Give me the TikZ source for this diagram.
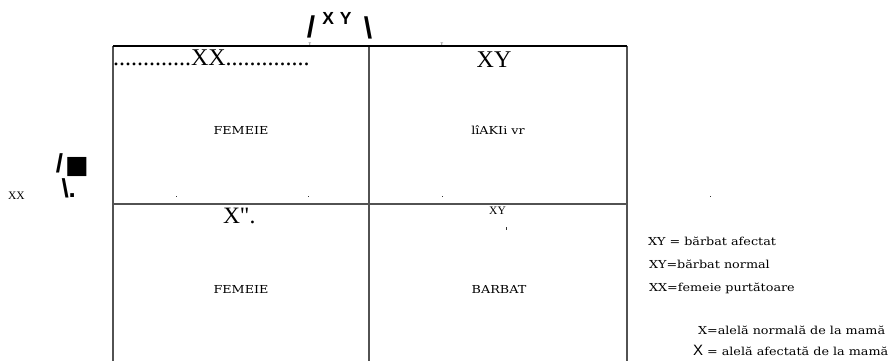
\documentclass[tikz,border=0pt]{standalone}
\usepackage{fontspec}
\setmainfont{DejaVu Serif}
\newfontfamily\wideserif[FakeStretch=1.16]{DejaVu Serif}
\newfontfamily\tnr{Liberation Serif}
\newfontfamily\arial{Liberation Sans}
\newfontfamily\djs{DejaVu Sans}
\begin{document}
\begin{tikzpicture}[x=1pt,y=-1pt,
  txt/.style={inner sep=0pt,outer sep=0pt},
  grid/.style={line width=1.5pt,draw=black!68},
  topline/.style={line width=1.6pt,draw=black},
  big/.style={txt,font=\tnr\fontsize{24}{24}\selectfont},
  cell/.style={txt,font=\wideserif\fontsize{11}{11}\selectfont},
  small/.style={txt,font=\tnr\fontsize{11.5}{11.5}\selectfont},
  legend/.style={txt,anchor=base west,font=\wideserif\fontsize{11}{11}\selectfont},
  tiny/.style={txt,font=\fontsize{4}{4}\selectfont,text=black!70},
  slash/.style={txt,anchor=base,font=\arial\bfseries\fontsize{30}{30}\selectfont},
  speck/.style={fill=black!80}]
\useasboundingbox (0,0) rectangle (893,361);
% grid
\coordinate (tl) at (113,46);
\coordinate (tm) at (369,46);
\coordinate (tr) at (627,46);
\coordinate (ml) at (113,204);
\coordinate (mr) at (627,204);
\coordinate (bl) at (113,361);
\coordinate (bm) at (369,361);
\coordinate (br) at (627,361);
\draw[grid] (tl) -- (bl);
\draw[grid] (tm) -- (bm);
\draw[grid] (tr) -- (br);
\draw[grid] (ml) -- (mr);
\draw[topline] (tl) -- (tr);
% title
\node[slash] (s1) at (311,37.5) {/};
\node[txt,anchor=base,font=\arial\bfseries\fontsize{17.5}{17.5}\selectfont] (xy) at (337,25) {X\hspace{6pt}Y};
\node[slash] (s2) at (368,38) {\textbackslash};
\node[tiny,anchor=base] (y1) at (310,45.5) {Y};
\node[tiny,anchor=base] (y2) at (442,45.5) {Y};
% header row
\node[big,anchor=base west] (hxx) at (113,66) {.............XX..............};
\node[big,anchor=base] (hxy) at (494,67) {XY};
% left side
\node[small,anchor=base] (lxx) at (16.5,199) {XX};
\node[slash,font=\arial\bfseries\fontsize{26}{26}\selectfont] (ls1) at (59.5,172) {/};
\node[txt,anchor=base,font=\djs\fontsize{25}{25}\selectfont] (lsq) at (77,173) {■};
\node[txt,anchor=base west,font=\arial\bfseries\fontsize{26}{26}\selectfont] (ls2) at (61.5,197) {\textbackslash.};
% cells
\node[cell,anchor=base] (c11) at (241,134) {FEMEIE};
\node[cell,anchor=base] (c12) at (498,134) {lîAKIi vr};
\node[cell,anchor=base] (c21) at (241,293) {FEMEIE};
\node[cell,anchor=base] (c22) at (499,293) {BARBAT};
\node[txt,anchor=base west,font=\tnr\fontsize{23.5}{23.5}\selectfont] (x2) at (223,223) {X".};
\node[small,anchor=base] (xy2) at (497.5,214) {XY};
% specks
\fill[speck] (175.5,195.5) rectangle (176.5,196.5);
\fill[speck] (307.5,195.5) rectangle (308.5,196.5);
\fill[speck] (441.5,195.5) rectangle (442.5,196.5);
\fill[speck] (709.5,195.5) rectangle (710.5,196.5);
\fill[speck] (505.5,227) rectangle (506.5,230);
% legend
\node[legend] (l1) at (648,245.5) {XY = bărbat afectat};
\node[legend] (l2) at (649,268.5) {XY=bărbat normal};
\node[legend] (l3) at (649,291.5) {XX=femeie purtătoare};
\node[legend] (l4) at (698,334) {X=alelă normală de la mamă};
\node[legend] (l5) at (693,355) {{\arial\fontsize{15}{15}\selectfont X} = alelă afectată de la mamă};
\end{tikzpicture}
\end{document}
